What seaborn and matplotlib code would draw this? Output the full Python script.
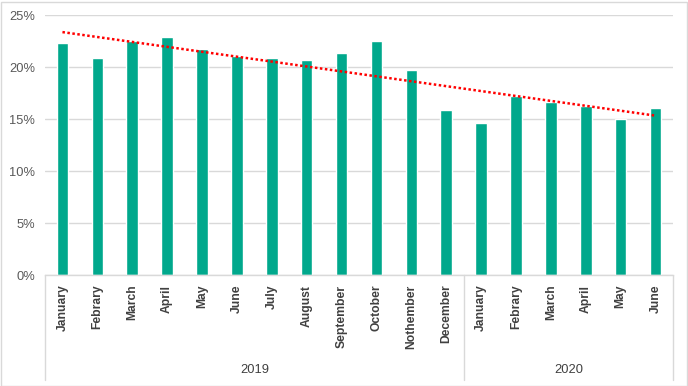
import numpy as np
import pandas as pd
import matplotlib
matplotlib.use("Agg")
import matplotlib.pyplot as plt
import matplotlib.transforms as mtransforms
from matplotlib.patches import Rectangle
import seaborn as sns

years = ["2019"] * 12 + ["2020"] * 6
months = ["January", "Febrary", "March", "April", "May", "June", "July", "August",
          "September", "October", "Nothember", "December",
          "January", "Febrary", "March", "April", "May", "June"]
values = [22.3, 20.9, 22.5, 22.9, 21.7, 21.1, 20.9, 20.7, 21.3, 22.5, 19.7, 15.9,
          14.6, 17.2, 16.6, 16.25, 15.0, 16.06]
year_labels = ["2019", "2020"]
yticks = [0, 5, 10, 15, 20, 25]

sns.set_theme(style="white")
plt.rcParams['font.family'] = ['Liberation Sans', 'DejaVu Sans']

df = pd.DataFrame({"key": [f"{y}-{m}" for y, m in zip(years, months)],
                   "month": months, "year": years,
                   "value": np.array(values) / 100})

fig = plt.figure(figsize=(6.88, 3.86), dpi=100)
W, H = 688, 386
ax = fig.add_axes([45 / W, 1 - 275 / H, (673 - 45) / W, (275 - 15) / H])

sns.barplot(data=df, x="key", y="value", color="#00A88C", saturation=1,
            width=0.33, ax=ax, errorbar=None)

# linear trendline
xs = np.arange(len(values))
coef = np.polyfit(xs, df["value"].values, 1)
ax.plot(xs, np.polyval(coef, xs), color="#FF0000", lw=1.8,
        linestyle=(0, (1, 1)), zorder=5)

ax.set_xlim(-0.5, len(values) - 0.5)
ax.set_ylim(0, 0.25)
ax.set_yticks(np.array(yticks) / 100)
ax.set_yticklabels([f"{t}%" for t in yticks], fontsize=9.3, color="#595959")
ax.yaxis.grid(True, color="#D9D9D9", lw=1)
ax.set_axisbelow(True)
for s in ["left", "right", "top"]:
    ax.spines[s].set_visible(False)
ax.spines["bottom"].set_color("#D9D9D9")
ax.spines["bottom"].set_linewidth(1)
ax.tick_params(axis="y", length=0, pad=7)
ax.tick_params(axis="x", length=0, pad=7)
ax.set_xticks(xs)
ax.set_xticklabels(months, rotation=90, fontsize=8.7, fontweight="bold",
                   color="#404040", va="top", ha="center")
ax.set_xlabel("")
ax.set_ylabel("")

# multi-level category axis
trans = mtransforms.blended_transform_factory(ax.transData, ax.transAxes)
yb = -(380 - 275) / (275 - 15)
for xb in [-0.5, 11.5, 17.5]:
    ax.plot([xb, xb], [0, yb], transform=trans, color="#D9D9D9", lw=1, clip_on=False)
ylab = -(370 - 275) / (275 - 15)
for lab, (a, b) in zip(year_labels, [(-0.5, 11.5), (11.5, 17.5)]):
    ax.text((a + b) / 2, ylab, lab, transform=trans, ha="center", va="center",
            fontsize=9.3, color="#404040")

fig.patches.append(Rectangle((0.5 / W, 0.5 / H), (W - 2) / W, (H - 2) / H,
                             transform=fig.transFigure, fill=False,
                             edgecolor="#D9D9D9", lw=1))
fig.savefig("out.png", dpi=100)
